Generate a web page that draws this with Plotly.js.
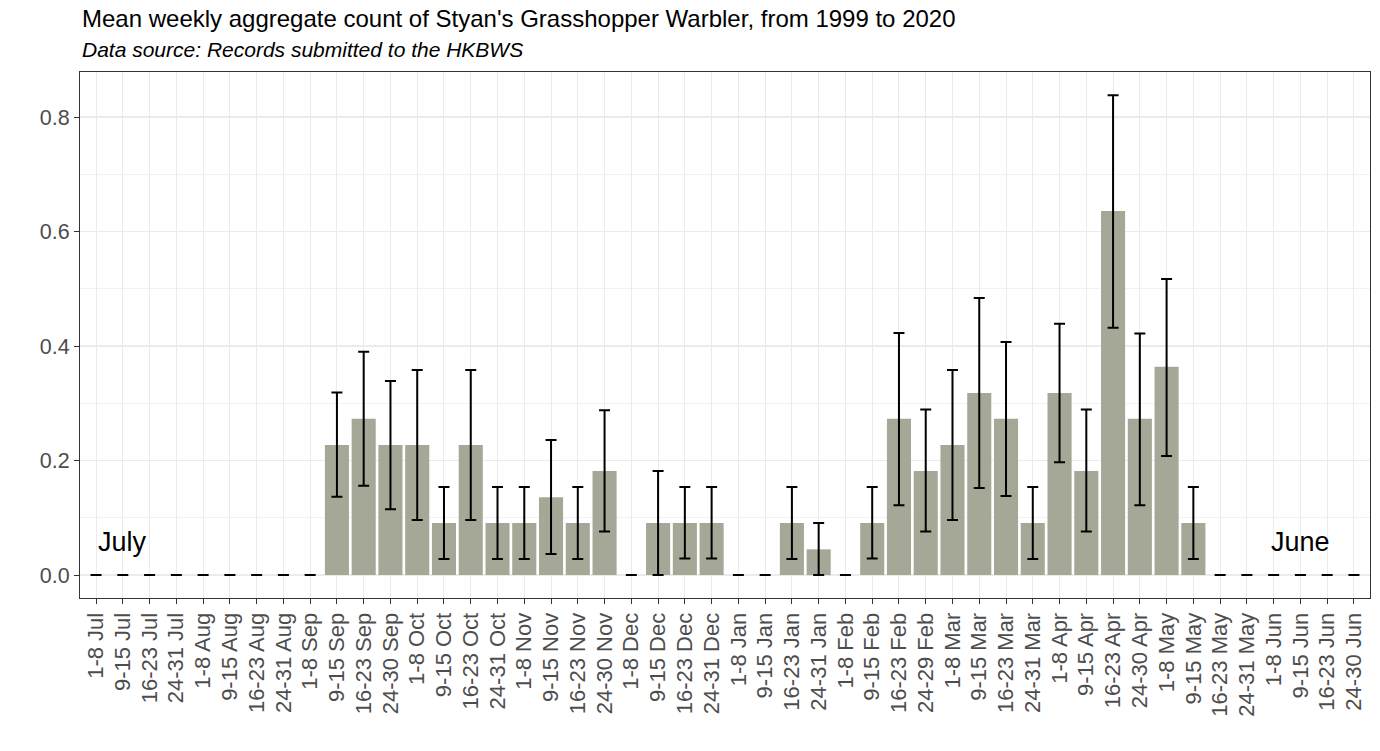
<!DOCTYPE html>
<html>
<head>
<meta charset="utf-8">
<script src="https://cdn.plot.ly/plotly-3.0.1.min.js"></script>
<style>html,body{margin:0;padding:0;background:#fff}#chart{width:1380px;height:751px}</style>
</head>
<body>
<div id="chart"></div>
<script>
const weeks = ["1-8 Jul","9-15 Jul","16-23 Jul","24-31 Jul","1-8 Aug","9-15 Aug","16-23 Aug","24-31 Aug",
  "1-8 Sep","9-15 Sep","16-23 Sep","24-30 Sep","1-8 Oct","9-15 Oct","16-23 Oct","24-31 Oct",
  "1-8 Nov","9-15 Nov","16-23 Nov","24-30 Nov","1-8 Dec","9-15 Dec","16-23 Dec","24-31 Dec",
  "1-8 Jan","9-15 Jan","16-23 Jan","24-31 Jan","1-8 Feb","9-15 Feb","16-23 Feb","24-29 Feb",
  "1-8 Mar","9-15 Mar","16-23 Mar","24-31 Mar","1-8 Apr","9-15 Apr","16-23 Apr","24-30 Apr",
  "1-8 May","9-15 May","16-23 May","24-31 May","1-8 Jun","9-15 Jun","16-23 Jun","24-30 Jun"];

const meanCount = [0,0,0,0,0,0,0,0,
  0,0.227,0.273,0.227,0.227,0.091,0.227,0.091,
  0.091,0.136,0.091,0.182,0,0.091,0.091,0.091,
  0,0,0.091,0.045,0,0.091,0.273,0.182,
  0.227,0.318,0.273,0.091,0.318,0.182,0.636,0.273,
  0.364,0.091,0,0,0,0,0,0];

const upperBound = [0,0,0,0,0,0,0,0,
  0,0.319,0.390,0.339,0.358,0.154,0.358,0.154,
  0.154,0.236,0.154,0.288,0,0.182,0.154,0.154,
  0,0,0.154,0.091,0,0.154,0.423,0.289,
  0.358,0.484,0.407,0.154,0.439,0.289,0.838,0.422,
  0.517,0.154,0,0,0,0,0,0];

const lowerBound = [0,0,0,0,0,0,0,0,
  0,0.137,0.156,0.115,0.096,0.028,0.096,0.028,
  0.028,0.037,0.028,0.076,0,0,0.029,0.029,
  0,0,0.028,0,0,0.029,0.122,0.076,
  0.096,0.152,0.138,0.028,0.197,0.076,0.432,0.122,
  0.208,0.028,0,0,0,0,0,0];

const yTicks = [0, 0.2, 0.4, 0.6, 0.8];
const titleText = "Mean weekly aggregate count of Styan's Grasshopper Warbler, from 1999 to 2020";
const subtitleText = "Data source: Records submitted to the HKBWS";

const errPlus = meanCount.map((m, i) => upperBound[i] - m);
const errMinus = meanCount.map((m, i) => m - lowerBound[i]);

const FONT = "Liberation Sans, Arial, sans-serif";

const trace = {
  type: 'bar',
  x: weeks,
  y: meanCount,
  marker: {color: '#A6A897', line: {width: 0}},
  error_y: {
    type: 'data', symmetric: false,
    array: errPlus, arrayminus: errMinus,
    color: '#000000', thickness: 2, width: 5.5, visible: true
  },
  hoverinfo: 'x+y'
};

const layout = {
  width: 1380, height: 751,
  paper_bgcolor: '#ffffff', plot_bgcolor: '#ffffff',
  margin: {l: 80, r: 10, t: 72, b: 153, pad: 0},
  bargap: 0.1,
  showlegend: false,
  font: {family: FONT, color: '#4D4D4D'},
  xaxis: {
    type: 'category',
    range: [-0.6, weeks.length - 0.4],
    tickmode: 'array',
    tickvals: weeks,
    ticktext: weeks,
    tickangle: -90,
    tickfont: {family: FONT, size: 22, color: '#4D4D4D'},
    ticks: 'outside', ticklen: 5, tickcolor: '#333333', tickwidth: 1,
    showgrid: true, gridcolor: '#EBEBEB', gridwidth: 1,
    showline: true, mirror: true, linecolor: '#333333', linewidth: 1,
    zeroline: false, fixedrange: true
  },
  yaxis: {
    range: [-0.040, 0.8786],
    tickvals: yTicks,
    ticktext: yTicks.map(v => v.toFixed(1)),
    tickfont: {family: FONT, size: 21.5, color: '#4D4D4D'},
    ticks: 'outside', ticklen: 5, tickcolor: '#333333', tickwidth: 1,
    showgrid: true, gridcolor: '#EBEBEB', gridwidth: 1.3,
    minor: {showgrid: true, gridcolor: '#F2F2F2', gridwidth: 1, tickvals: [0.1, 0.3, 0.5, 0.7]},
    showline: true, mirror: true, linecolor: '#333333', linewidth: 1,
    zeroline: false, fixedrange: true
  },
  annotations: [
    {text: titleText, xref: 'paper', yref: 'paper', x: 0, y: 1, xanchor: 'left', yanchor: 'bottom',
     yshift: 38, showarrow: false, font: {family: FONT, size: 24, color: '#000000'}},
    {text: '<i>' + subtitleText + '</i>', xref: 'paper', yref: 'paper', x: 0, y: 1, xanchor: 'left', yanchor: 'bottom',
     yshift: 9, showarrow: false, font: {family: FONT, size: 21, color: '#000000'}},
    {text: 'July', x: '9-15 Jul', y: 0.058, xref: 'x', yref: 'y', showarrow: false,
     font: {family: FONT, size: 27, color: '#000000'}},
    {text: 'June', x: '9-15 Jun', y: 0.058, xref: 'x', yref: 'y', showarrow: false,
     font: {family: FONT, size: 27, color: '#000000'}}
  ]
};

Plotly.newPlot('chart', [trace], layout, {displayModeBar: false, staticPlot: true});
</script>
</body>
</html>
